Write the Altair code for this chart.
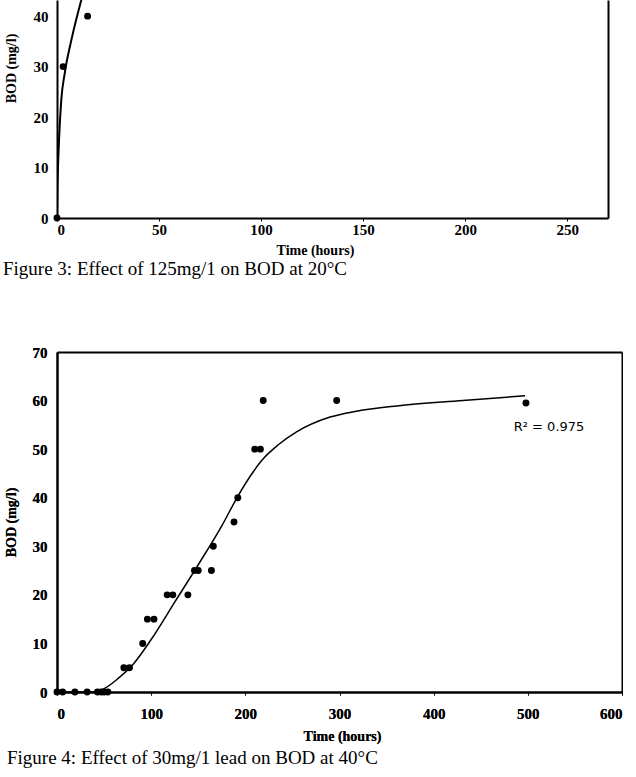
import altair as alt
import pandas as pd

# ---- Figure 3: 125 mg/l at 20 °C ----
f3_time = [0, 3, 15]
f3_bod = [0, 30, 40]
# fitted trend line, read as (time, BOD) pairs
f3_fit_time = [0, 0.2, 0.5, 1.0, 2.1, 3.8, 7.0, 11.9, 16.0]
f3_fit_bod = [0, 5.5, 10.2, 15.5, 23.4, 28.7, 35.2, 43.2, 49.0]

# ---- Figure 4: 30 mg/l lead at 40 °C ----
f4_time = [0, 6, 19, 32, 43, 47, 50, 54, 71, 77, 91, 96, 103, 117, 123, 139,
           146, 150, 164, 166, 188, 192, 210, 216, 219, 297, 498]
f4_bod = [0, 0, 0, 0, 0, 0, 0, 0, 5, 5, 10, 15, 15, 20, 20, 20,
          25, 25, 25, 30, 35, 40, 50, 50, 60, 60, 59.5]
f4_fit_time = [0, 38, 50, 65, 80, 100, 125, 150, 175, 192, 209, 218, 235,
               254, 290, 318, 361, 431, 497]
f4_fit_bod = [0, 0, 0.7, 2.8, 5.5, 10.8, 18.5, 26.2, 34.2, 40.3, 45.5, 47.8, 50.9,
              53.5, 56.6, 57.8, 58.9, 60, 61]
f4_r2_label = "R\u00b2 = 0.975"
f4_r2_pos = (485, 54.5)

SERIF = "Liberation Serif"


def frame_axis(orient):
    return alt.Axis(orient=orient, labels=False, ticks=False, title=None,
                    domainColor="black", domainWidth=2, grid=False)


# ---------- Figure 3 panel ----------
x3 = alt.Scale(domain=[0, 270], nice=False)
y3 = alt.Scale(domain=[0, 43.2], nice=False)
x3_axis = alt.Axis(values=[0, 50, 100, 150, 200, 250], title="Time (hours)",
                   tickSize=3, labelPadding=1, titlePadding=6, titleX=258)
y3_axis = alt.Axis(values=[0, 10, 20, 30, 40], title="BOD (mg/l)", ticks=False,
                   labelPadding=9, titleX=-39, titleY=68)

f3_pts = pd.DataFrame({"t": f3_time, "b": f3_bod})
f3_fit = pd.DataFrame({"t": f3_fit_time, "b": f3_fit_bod})

f3_line = alt.Chart(f3_fit).mark_line(
    color="black", strokeWidth=2, interpolate="monotone", clip=True
).encode(
    x=alt.X("t:Q", scale=x3, axis=x3_axis),
    y=alt.Y("b:Q", scale=y3, axis=frame_axis("right")),
)
f3_dots = alt.Chart(f3_pts).mark_circle(
    size=48, color="black", opacity=1
).encode(
    x=alt.X("t:Q", scale=x3, axis=x3_axis),
    y=alt.Y("b:Q", scale=y3, axis=y3_axis),
)
fig3 = alt.layer(f3_line, f3_dots).resolve_axis(y="independent").properties(
    width=551, height=218,
    title=alt.TitleParams("Figure 3: Effect of 125mg/1 on BOD at 20\u00b0C",
                          orient="bottom", anchor="start", frame="group",
                          dx=-54, offset=3, font=SERIF, fontSize=19,
                          fontWeight="normal", color="black"),
)

# ---------- Figure 4 panel ----------
x4 = alt.Scale(domain=[0, 600], nice=False)
y4 = alt.Scale(domain=[0, 70], nice=False)
x4_axis = alt.Axis(values=[0, 100, 200, 300, 400, 500, 600], title="Time (hours)",
                   tickSize=3, labelPadding=11, titlePadding=8, titleX=285)
y4_axis = alt.Axis(values=[0, 10, 20, 30, 40, 50, 60, 70], title="BOD (mg/l)",
                   ticks=False, labelPadding=10, titleX=-39)

f4_pts = pd.DataFrame({"t": f4_time, "b": f4_bod})
f4_fit = pd.DataFrame({"t": f4_fit_time, "b": f4_fit_bod})
f4_txt = pd.DataFrame({"t": [f4_r2_pos[0]], "b": [f4_r2_pos[1]], "label": [f4_r2_label]})

f4_line = alt.Chart(f4_fit).mark_line(
    color="black", strokeWidth=1.5, interpolate="monotone"
).encode(
    x=alt.X("t:Q", scale=x4, axis=frame_axis("top")),
    y=alt.Y("b:Q", scale=y4, axis=frame_axis("right")),
)
f4_dots = alt.Chart(f4_pts).mark_circle(
    size=48, color="black", opacity=1
).encode(
    x=alt.X("t:Q", scale=x4, axis=x4_axis),
    y=alt.Y("b:Q", scale=y4, axis=y4_axis),
)
f4_label = alt.Chart(f4_txt).mark_text(
    align="left", baseline="middle", font="DejaVu Sans", fontSize=13, color="black"
).encode(
    x=alt.X("t:Q", scale=x4, axis=x4_axis),
    y=alt.Y("b:Q", scale=y4, axis=y4_axis),
    text="label:N",
)
fig4 = alt.layer(f4_line, f4_dots, f4_label).resolve_axis(
    x="independent", y="independent"
).properties(
    width=565, height=340,
    title=alt.TitleParams("Figure  4: Effect of 30mg/1 lead on BOD at 40\u00b0C",
                          orient="bottom", anchor="start", frame="group",
                          dx=-50, offset=6, font=SERIF, fontSize=19,
                          fontWeight="normal", color="black"),
)

chart = alt.vconcat(fig3, fig4, spacing=66).properties(
    padding={"left": 3, "top": 0, "right": 0, "bottom": 0},
    background="white",
).configure_view(stroke=None).configure_axis(
    labelFont=SERIF, labelFontWeight="bold", labelFontSize=15, labelColor="black",
    titleFont=SERIF, titleFontWeight="bold", titleFontSize=14, titleColor="black",
    domainColor="black", domainWidth=2, tickColor="black", grid=False,
)

chart.save("out.html", embed_options={"renderer": "svg", "actions": False})
